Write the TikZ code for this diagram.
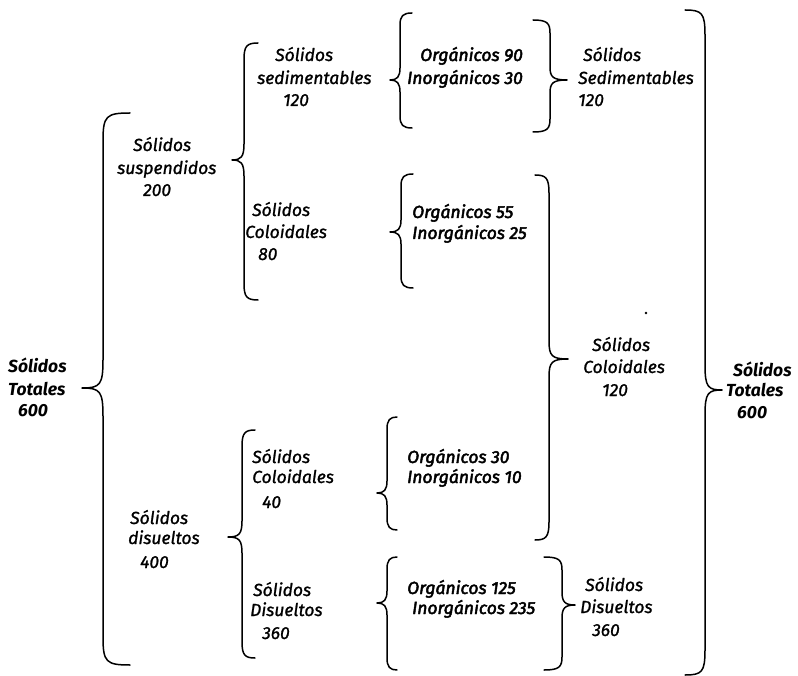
\documentclass[tikz,border=0pt]{standalone}
\usepackage{fontspec}
\setmainfont{Fira Sans}
\newfontfamily\lblfont[FakeBold=1.2]{Fira Sans}
\newfontfamily\orgfont[FakeBold=2.6]{Fira Sans}
\newcommand{\braceL}[7]{%
  \draw[brc] (#1+#6,#2) .. controls (#1+3,#2) and (#1,#2+3) .. (#1,#2+#7)
    -- (#1,#5-#7) .. controls (#1,#5-3) and (#1-3,#5) .. (#4,#5)
    .. controls (#1-3,#5) and (#1,#5+3) .. (#1,#5+#7)
    -- (#1,#3-#7) .. controls (#1,#3-3) and (#1+3,#3) .. (#1+#6,#3);}
\newcommand{\braceR}[7]{%
  \draw[brc] (#1-#6,#2) .. controls (#1-3,#2) and (#1,#2+3) .. (#1,#2+#7)
    -- (#1,#5-#7) .. controls (#1,#5-3) and (#1+3,#5) .. (#4,#5)
    .. controls (#1+3,#5) and (#1,#5+3) .. (#1,#5+#7)
    -- (#1,#3-#7) .. controls (#1,#3-3) and (#1-3,#3) .. (#1-#6,#3);}
\newcommand{\lbl}[5][]{\node[txt,#1] (#2) at (#3,#4+6) {#5};}
\begin{document}
\begin{tikzpicture}[x=1pt,y=-1pt,
  brc/.style={line width=1.5pt,line cap=round,line join=round},
  txt/.style={anchor=base west,inner sep=0pt,font=\fontsize{17.5}{20}\lblfont\itshape},
  org/.style={font=\fontsize{17.5}{20}\orgfont\itshape},
  bld/.style={font=\fontsize{17.5}{20}\selectfont\bfseries\itshape}]
\useasboundingbox (0,0) rectangle (798,676);
% braces opening
\braceL{103}{113}{665}{82}{388}{27}{28}
\braceL{244}{43}{300}{232}{160}{14}{16}
\braceL{242}{430}{658}{228}{537}{13}{16}
\braceL{400}{13}{128}{390}{80}{12}{12}
\braceL{401}{174}{288}{390}{232}{12}{12}
\braceL{387}{417}{530}{377}{493}{10}{12}
\braceL{387}{557}{670}{377}{603}{10}{12}
% braces closing
\braceR{550}{20}{132}{567}{80}{17}{13}
\braceR{549}{175}{540}{568}{359}{14}{18}
\braceR{562}{557}{670}{575}{605}{18}{13}
\braceR{705}{10}{675}{722}{390}{20}{25}
\fill (646,313) circle (1.3);
% left totals
\lbl[bld]{tl1}{8}{367}{Sólidos}
\lbl[bld]{tl2}{8}{389}{Totales}
\lbl[bld]{tl3}{18}{410}{600}
% suspendidos
\lbl{su1}{133}{145}{Sólidos}
\lbl{su2}{117}{168}{suspendidos}
\lbl{su3}{143}{190}{200}
% sedimentables
\lbl{se1}{275}{55}{Sólidos}
\lbl{se2}{257}{78}{sedimentables}
\lbl{se3}{283}{100}{120}
% coloidales 80
\lbl{ca1}{252}{210}{Sólidos}
\lbl{ca2}{245}{232}{Coloidales}
\lbl{ca3}{258}{254}{80}
% disueltos
\lbl{di1}{130}{518}{Sólidos}
\lbl{di2}{128}{538}{disueltos}
\lbl{di3}{140}{562}{400}
% coloidales 40
\lbl{cb1}{252}{457}{Sólidos}
\lbl{cb2}{252}{477}{Coloidales}
\lbl{cb3}{262}{502}{40}
% disueltos 360
\lbl{dd1}{253}{590}{Sólidos}
\lbl{dd2}{250}{610}{Disueltos}
\lbl{dd3}{262}{633}{360}
% organic groups
\lbl[org]{o1a}{420}{55}{Orgánicos 90}
\lbl[org]{o1b}{407}{78}{Inorgánicos 30}
\lbl[org]{o2a}{412}{212}{Orgánicos 55}
\lbl[org]{o2b}{412}{233}{Inorgánicos 25}
\lbl[org]{o3a}{407}{457}{Orgánicos 30}
\lbl[org]{o3b}{407}{477}{Inorgánicos 10}
\lbl[org]{o4a}{407}{588}{Orgánicos 125}
\lbl[org]{o4b}{412}{608}{Inorgánicos 235}
% right side
\lbl{rs1}{583}{55}{Sólidos}
\lbl{rs2}{578}{78}{Sedimentables}
\lbl{rs3}{578}{100}{120}
\lbl{rc1}{592}{345}{Sólidos}
\lbl{rc2}{583}{367}{Coloidales}
\lbl{rc3}{602}{390}{120}
\lbl{rd1}{585}{585}{Sólidos}
\lbl{rd2}{580}{607}{Disueltos}
\lbl{rd3}{592}{630}{360}
\lbl[bld]{tr1}{733}{370}{Sólidos}
\lbl[bld]{tr2}{726}{390}{Totales}
\lbl[bld]{tr3}{737}{412}{600}
\end{tikzpicture}
\end{document}
